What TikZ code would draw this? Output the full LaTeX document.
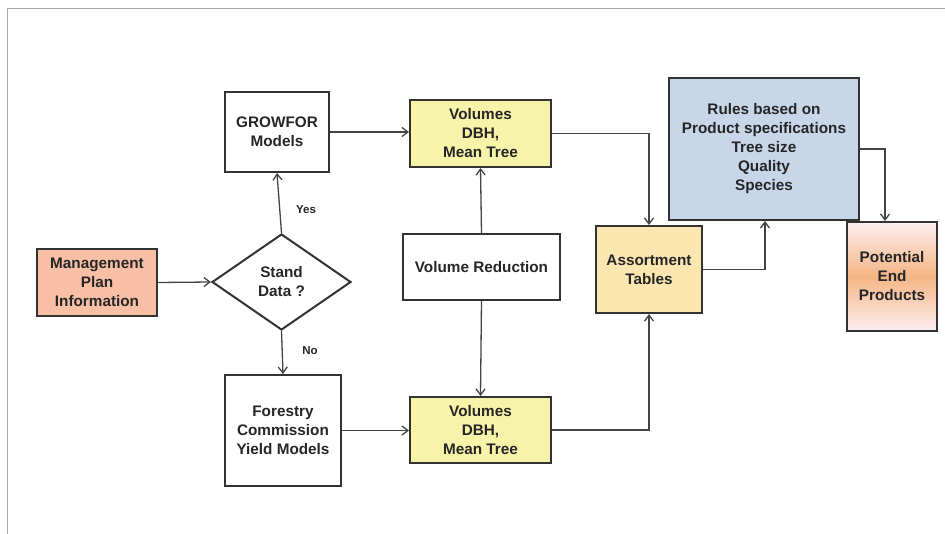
\documentclass[tikz,border=0pt]{standalone}
\usepackage{fontspec}
\setmainfont{Liberation Sans}
\usetikzlibrary{arrows.meta,shapes.geometric}
\definecolor{salmon}{HTML}{F8BFA5}
\definecolor{volyellow}{HTML}{F7F4A9}
\definecolor{assort}{HTML}{FBE6B0}
\definecolor{rulesblue}{HTML}{C8D6EA}
\definecolor{potorange}{HTML}{F5B584}
\definecolor{potpink}{HTML}{FCEEF0}
\definecolor{edge}{HTML}{333333}
\definecolor{conn}{HTML}{444444}
\tikzset{
  box/.style={draw=edge, line width=2pt, align=center, inner sep=0pt,
    font=\fontsize{15.3}{19}\selectfont\bfseries, text=black!85},
  conn/.style={draw=conn, line width=1.3pt, -{Straight Barb[length=6pt,width=9pt,line width=1.3pt]}},
  lbl/.style={font=\fontsize{11.5}{13}\selectfont\bfseries, text=black!85}
}
\begin{document}
\begin{tikzpicture}[x=1pt,y=-1pt]
\useasboundingbox (0,0) rectangle (945,534);
\draw[black!35, line width=1pt] (7,534) -- (7,9) -- (945,9);
% nodes
\node[box, fill=salmon, minimum width=120pt, minimum height=67pt] (mgmt) at (97,282.5) {Management\\Plan\\Information};
\node[diamond, draw=edge, line width=2pt, minimum width=139pt, minimum height=96pt, inner sep=0pt, aspect=1.45] (stand) at (281.5,282) {};
\node[align=center, font=\fontsize{15.3}{19}\selectfont\bfseries, text=black!85] (standtxt) at (281.5,282) {Stand\\Data ?};
\node[box, minimum width=104pt, minimum height=80pt] (grow) at (277,132) {GROWFOR\\Models};
\node[box, minimum width=116pt, minimum height=111pt] (fc) at (283,430.5) {Forestry\\Commission\\Yield Models};
\node[box, fill=volyellow, minimum width=141pt, minimum height=67pt] (vtop) at (480.5,133.5) {Volumes\\DBH,\\Mean Tree};
\node[box, minimum width=157pt, minimum height=66pt] (vred) at (481.5,267) {Volume Reduction};
\node[box, fill=volyellow, minimum width=141pt, minimum height=66pt] (vbot) at (480.5,430) {Volumes\\DBH,\\Mean Tree};
\node[box, fill=assort, minimum width=106pt, minimum height=87pt] (assort) at (649,269.5) {Assortment\\Tables};
\node[box, fill=rulesblue, minimum width=190pt, minimum height=142pt] (rules) at (764,149) {Rules based on\\Product specifications\\Tree size\\Quality\\Species};
\node[box, minimum width=90pt, minimum height=109pt, top color=potpink, bottom color=potpink, middle color=potorange] (pot) at (892,276.5) {Potential\\End\\Products};
% labels
\node[lbl] (yes) at (306,210) {Yes};
\node[lbl] (no) at (310,351) {No};
% connectors
\draw[conn] (mgmt.east) -- (stand.west);
\draw[conn] (stand.north) -- (grow.south);
\draw[conn] (stand.south) -- (fc.north);
\draw[conn] (grow.east) -- (vtop.west |- grow.east);
\draw[conn] (fc.east) -- (vbot.west |- fc.east);
\draw[conn] (vred.north) -- (vtop.south);
\draw[conn] (vred.south) -- (vbot.north);
\draw[conn] (vtop.east) -| (assort.north);
\draw[conn] (vbot.east) -| (assort.south);
\draw[conn] (assort.east) -| ([xshift=1pt]rules.south);
\draw[conn] (rules.east) -| ([xshift=-7pt]pot.north);
\end{tikzpicture}
\end{document}
